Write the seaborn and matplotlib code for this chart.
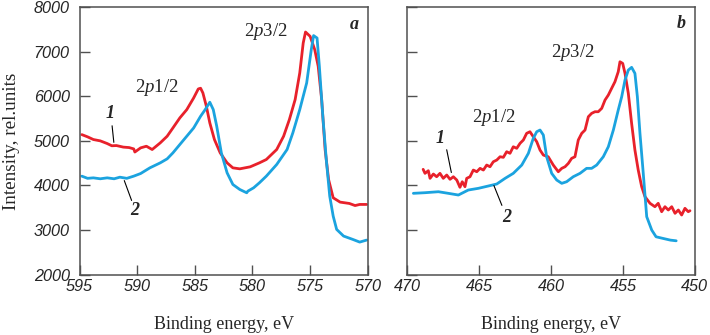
import matplotlib
matplotlib.use("Agg")
import matplotlib.pyplot as plt
import seaborn as sns
import pandas as pd

# panel a (Mn 2p region)
energy_a1 = [594.8, 594.3, 593.8, 593.2, 592.6, 592.2, 591.8, 591.2, 590.7, 590.3, 590.2, 589.7,
             589.2, 588.7, 588.0, 587.4, 586.9, 586.3, 585.7, 585.1, 584.7, 584.5, 584.3, 584.0,
             583.7, 583.3, 582.8, 582.2, 581.7, 581.1, 580.2, 579.4, 578.8, 577.9, 577.3, 576.8,
             576.3, 575.9, 575.6, 575.4, 575.0, 574.6, 574.3, 574.0, 573.7, 573.4, 573.0, 572.4,
             571.6, 571.1, 570.7, 570.1]
inten_a1 = [5140, 5090, 5030, 5000, 4940, 4890, 4895, 4860, 4850, 4820, 4750, 4843,
            4880, 4806, 4955, 5104, 5290, 5515, 5700, 5963, 6164, 6180, 6075, 5776,
            5403, 5030, 4731, 4507, 4395, 4373, 4418, 4507, 4582, 4806, 5104, 5478,
            5925, 6522, 7194, 7440, 7343, 7045, 6672, 5925, 4806, 4134, 3724, 3627,
            3597, 3550, 3575, 3575]

energy_a2 = [594.8, 594.3, 593.8, 593.2, 592.6, 592.0, 591.5, 590.9, 590.3, 589.7, 588.9, 588.0,
             587.4, 586.9, 586.3, 585.7, 585.1, 584.5, 584.1, 583.7, 583.4, 583.1, 582.7, 582.2,
             581.7, 581.1, 580.5, 580.4, 579.9, 579.4, 578.8, 577.9, 577.0, 576.5, 575.9, 575.3,
             574.9, 574.7, 574.4, 574.2, 573.9, 573.6, 573.3, 573.0, 572.7, 572.1, 571.3, 570.7,
             570.1]
inten_a2 = [4209, 4160, 4171, 4150, 4171, 4150, 4186, 4160, 4209, 4268, 4395, 4507,
            4597, 4731, 4918, 5104, 5290, 5552, 5701, 5866, 5701, 5328, 4731, 4283,
            4022, 3910, 3836, 3873, 3948, 4060, 4209, 4470, 4806, 5179, 5701, 6298,
            7045, 7360, 7306, 6672, 5552, 4582, 3761, 3313, 3015, 2866, 2791, 2731,
            2776]

# panel b (Ti 2p region)
energy_b1 = [468.9, 468.77, 468.54, 468.42, 468.19, 467.96, 467.73, 467.5, 467.26, 467.03, 466.8,
             466.56, 466.34, 466.18, 465.99, 465.87, 465.64, 465.41, 465.17, 464.94, 464.71,
             464.48, 464.25, 464.02, 463.78, 463.55, 463.32, 463.09, 462.86, 462.63, 462.39,
             462.16, 461.93, 461.7, 461.47, 461.24, 461.0, 460.77, 460.54, 460.2, 459.85,
             459.5, 459.26, 459.03, 458.8, 458.57, 458.34, 458.11, 457.87, 457.64, 457.41,
             457.18, 456.95, 456.72, 456.48, 456.25, 456.02, 455.79, 455.56, 455.33, 455.21,
             455.02, 454.86, 454.63, 454.4, 454.17, 453.94, 453.7, 453.47, 453.12, 452.78,
             452.55, 452.31, 452.08, 451.85, 451.61, 451.38, 451.15, 450.92, 450.69, 450.46,
             450.34]
inten_b1 = [4362, 4272, 4331, 4160, 4257, 4196, 4272, 4160, 4234, 4138, 4196,
            4122, 3959, 4084, 3972, 4160, 4196, 4346, 4308, 4384, 4346,
            4458, 4420, 4532, 4570, 4644, 4631, 4757, 4721, 4868, 4833,
            4945, 5019, 5169, 5205, 5093, 4981, 4794, 4682, 4644, 4458,
            4308, 4384, 4420, 4496, 4608, 4644, 5019, 5169, 5243, 5541,
            5617, 5653, 5653, 5729, 5915, 6027, 6177, 6325, 6549, 6773,
            6737, 6513, 6065, 5393, 4794, 4346, 3972, 3748, 3600, 3524,
            3600, 3412, 3524, 3450, 3524, 3376, 3450, 3338, 3488, 3412,
            3434]

energy_b2 = [469.58, 468.77, 467.84, 467.15, 466.45, 465.76, 465.06, 464.37, 463.78, 463.2,
             462.63, 462.04, 461.58, 461.24, 461.0, 460.77, 460.54, 460.31, 459.96, 459.61,
             459.26, 458.92, 458.46, 457.99, 457.53, 457.18, 456.83, 456.37, 456.02, 455.67,
             455.33, 455.09, 454.86, 454.63, 454.4, 454.17, 454.0, 453.82, 453.59, 453.35,
             453.0, 452.7, 452.2, 451.7, 451.3]
inten_b2 = [3824, 3838, 3860, 3824, 3786, 3898, 3936, 3988, 4033, 4160,
            4272, 4458, 4721, 5056, 5205, 5243, 5131, 4644, 4272, 4122,
            4048, 4084, 4196, 4272, 4384, 4384, 4458, 4644, 4868, 5243,
            5691, 5989, 6363, 6587, 6648, 6513, 5989, 5169, 4272, 3300,
            3000, 2850, 2812, 2775, 2760]

y_ticks = [2000, 3000, 4000, 5000, 6000, 7000, 8000]
x_ticks_a = [595, 590, 585, 580, 575, 570]
x_ticks_b = [470, 465, 460, 455, 450]

RED = "#e8212b"
BLUE = "#1ba3df"
FRAME = "#505050"

sns.set_theme(style="ticks")
plt.rcParams["font.family"] = ["Liberation Serif", "DejaVu Serif"]
plt.rcParams["mathtext.fontset"] = "custom"
plt.rcParams["mathtext.rm"] = "Liberation Serif"
plt.rcParams["mathtext.it"] = "Liberation Serif:italic"

fig = plt.figure(figsize=(7.1, 3.35), dpi=100)
ax_a = fig.add_axes([0.112, 0.180, 0.406, 0.799])
ax_b = fig.add_axes([0.5737, 0.180, 0.405, 0.799])

df_a = pd.concat([
    pd.DataFrame({"E": energy_a1, "I": inten_a1, "s": "1"}),
    pd.DataFrame({"E": energy_a2, "I": inten_a2, "s": "2"}),
])
df_b = pd.concat([
    pd.DataFrame({"E": energy_b1, "I": inten_b1, "s": "1"}),
    pd.DataFrame({"E": energy_b2, "I": inten_b2, "s": "2"}),
])

for ax, df, xt, xlim in [(ax_a, df_a, x_ticks_a, (595, 570)), (ax_b, df_b, x_ticks_b, (470, 450))]:
    sns.lineplot(data=df, x="E", y="I", hue="s", palette={"1": RED, "2": BLUE},
                 linewidth=2.0, legend=False, ax=ax)
    ax.set_xlim(*xlim)
    ax.set_ylim(2000, 8000)
    ax.set_xticks(xt)
    ax.set_yticks(y_ticks)
    ax.tick_params(direction="in", length=7, width=1, color=FRAME, labelsize=11.7)
    ax.tick_params(axis="x", pad=3)
    ax.tick_params(axis="y", pad=7)
    for sp in ax.spines.values():
        sp.set_color(FRAME)
        sp.set_linewidth(1.1)
    for lab in ax.get_xticklabels() + ax.get_yticklabels():
        lab.set_family(["Liberation Sans", "DejaVu Sans"])
        lab.set_style("italic")
    ax.set_xlabel("Binding energy, eV", fontsize=13, labelpad=16)
    ax.set_ylabel("")

ax_a.set_ylabel("Intensity, rel.units", fontsize=13.8, labelpad=10)
ax_b.tick_params(labelleft=False)

# annotations panel a
ax_a.text(588.3, 6200, r"2$\mathit{p}$1/2", fontsize=13.5, ha="center", va="center")
ax_a.text(578.8, 7450, r"2$\mathit{p}$3/2", fontsize=13.5, ha="center", va="center")
ax_a.text(0.97, 0.935, "a", transform=ax_a.transAxes, fontsize=13, weight="bold",
          style="italic", ha="right", va="center")
ax_a.text(592.35, 5620, "1", fontsize=13, weight="bold", style="italic", ha="center", va="center")
ax_a.annotate("", xy=(592.0, 4905), xytext=(592.2, 5400),
              arrowprops=dict(arrowstyle="-", color="black", lw=0.8))
ax_a.text(590.2, 3450, "2", fontsize=13, weight="bold", style="italic", ha="center", va="center")
ax_a.annotate("", xy=(591.2, 4168), xytext=(590.4, 3606),
              arrowprops=dict(arrowstyle="-", color="black", lw=0.8))

# annotations panel b
ax_b.text(458.5, 6970, r"2$\mathit{p}$3/2", fontsize=13.5, ha="center", va="center")
ax_b.text(464.0, 5530, r"2$\mathit{p}$1/2", fontsize=13.5, ha="center", va="center")
ax_b.text(0.97, 0.94, "b", transform=ax_b.transAxes, fontsize=13, weight="bold",
          style="italic", ha="right", va="center")
ax_b.text(467.7, 5060, "1", fontsize=13, weight="bold", style="italic", ha="center", va="center")
ax_b.annotate("", xy=(466.9, 4230), xytext=(467.3, 4862),
              arrowprops=dict(arrowstyle="-", color="black", lw=0.8))
ax_b.text(463.07, 3290, "2", fontsize=13, weight="bold", style="italic", ha="center", va="center")
ax_b.annotate("", xy=(464.05, 4056), xytext=(463.35, 3496),
              arrowprops=dict(arrowstyle="-", color="black", lw=0.8))

fig.savefig("out.png", dpi=100)
plt.close(fig)
